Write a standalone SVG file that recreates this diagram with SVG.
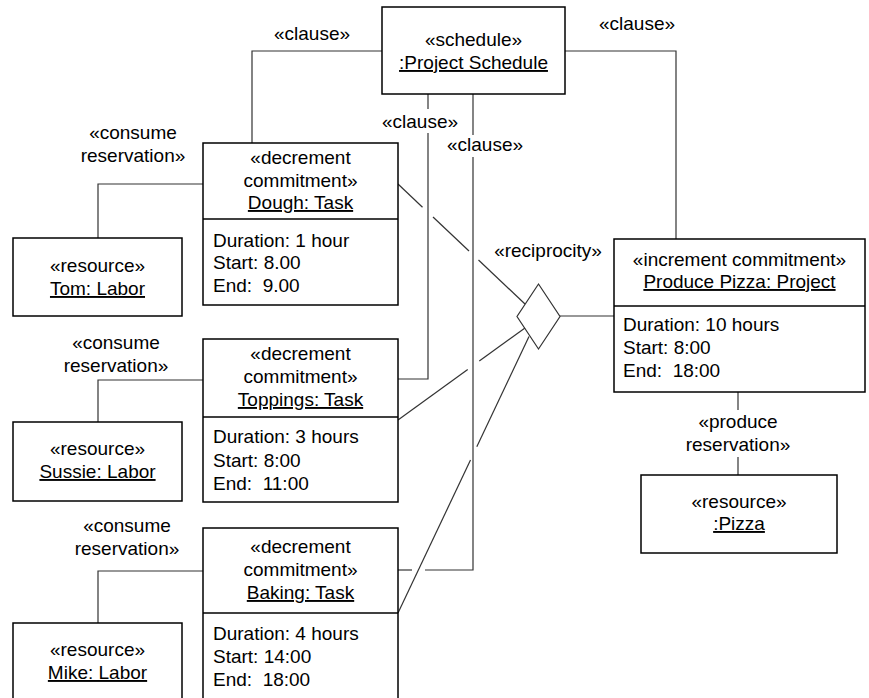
<svg xmlns="http://www.w3.org/2000/svg" width="869" height="698" viewBox="0 0 869 698">
  <style>
    text { font-family: "Liberation Sans", Arial, sans-serif; font-size: 19px; fill: #000; }
    .c { text-anchor: middle; }
    .u { text-decoration: underline; }
    .box { fill: #fff; stroke: #000; stroke-width: 1.5; }
    .div { stroke: #000; stroke-width: 1.5; fill: none; }
    .conn { fill: none; stroke: #333; stroke-width: 1.2; }
  </style>
  <rect width="869" height="698" fill="#fff"/>

  <!-- connectors -->
  <g id="connectors">
    <!-- schedule clauses -->
    <polyline class="conn" points="382,51 252,51 252,143"/>
    <polyline class="conn" points="565,51 676,51 676,239"/>
    <polyline class="conn" points="428,94 428,109"/>
    <polyline class="conn" points="428,133 428,379 398,379"/>
    <polyline class="conn" points="473,94 473,135"/>
    <polyline class="conn" points="473,157 473,570 425,570"/>
    <line class="conn" x1="412" y1="570" x2="398" y2="570"/>
    <!-- consume reservations -->
    <polyline class="conn" points="203,184 98,184 98,238"/>
    <polyline class="conn" points="203,380 98,380 98,422"/>
    <polyline class="conn" points="203,571 98,571 98,623"/>
    <!-- produce reservation -->
    <line class="conn" x1="738" y1="392" x2="738" y2="410"/>
    <line class="conn" x1="738" y1="457" x2="738" y2="475"/>
    <!-- reciprocity -->
    <line class="conn" x1="398" y1="184" x2="422.5" y2="207.2"/>
    <line class="conn" x1="433" y1="217" x2="469" y2="251"/>
    <line class="conn" x1="478.5" y1="260" x2="525" y2="304"/>
    <line class="conn" x1="398" y1="420" x2="467.7" y2="369.5"/>
    <line class="conn" x1="479.3" y1="361" x2="525" y2="328"/>
    <line class="conn" x1="398" y1="613" x2="470.5" y2="460"/>
    <line class="conn" x1="476.8" y1="446.7" x2="529" y2="336.5"/>
    <polygon class="conn" points="538.5,284 560,316.5 538.5,349 517,316.5" fill="#fff"/>
    <line class="conn" x1="560" y1="316" x2="614" y2="316"/>
    <!-- connector labels -->
    <text class="c" x="312" y="40">«clause»</text>
    <text class="c" x="637" y="30">«clause»</text>
    <text class="c" x="420" y="128">«clause»</text>
    <text class="c" x="485" y="151">«clause»</text>
    <text class="c" x="548" y="257">«reciprocity»</text>
    <text class="c" x="133" y="139">«consume</text>
    <text class="c" x="133" y="162">reservation»</text>
    <text class="c" x="116" y="349">«consume</text>
    <text class="c" x="116" y="372">reservation»</text>
    <text class="c" x="127" y="532">«consume</text>
    <text class="c" x="127" y="555">reservation»</text>
    <text class="c" x="738" y="428">«produce</text>
    <text class="c" x="738" y="451">reservation»</text>
  </g>

  <g id="schedule">
    <rect class="box" x="382" y="7" width="183" height="87"/>
    <text class="c" x="473.5" y="46">«schedule»</text>
    <text class="c u" x="473.5" y="69">:Project Schedule</text>
  </g>

  <g id="dough">
    <rect class="box" x="203" y="143" width="195" height="162"/>
    <line class="div" x1="203" y1="219" x2="398" y2="219"/>
    <text class="c" x="300.5" y="164">«decrement</text>
    <text class="c" x="300.5" y="187">commitment»</text>
    <text class="c u" x="300.5" y="209">Dough: Task</text>
    <text x="213" y="247">Duration: 1 hour</text>
    <text x="213" y="269">Start: 8.00</text>
    <text x="213" y="292" xml:space="preserve">End:  9.00</text>
  </g>

  <g id="toppings">
    <rect class="box" x="203" y="339" width="195" height="163"/>
    <line class="div" x1="203" y1="417" x2="398" y2="417"/>
    <text class="c" x="300.5" y="360">«decrement</text>
    <text class="c" x="300.5" y="383">commitment»</text>
    <text class="c u" x="300.5" y="406">Toppings: Task</text>
    <text x="213" y="443">Duration: 3 hours</text>
    <text x="213" y="467">Start: 8:00</text>
    <text x="213" y="490" xml:space="preserve">End:  11:00</text>
  </g>

  <g id="baking">
    <rect class="box" x="203" y="528" width="195" height="180"/>
    <line class="div" x1="203" y1="613" x2="398" y2="613"/>
    <text class="c" x="300.5" y="553">«decrement</text>
    <text class="c" x="300.5" y="576">commitment»</text>
    <text class="c u" x="300.5" y="599">Baking: Task</text>
    <text x="213" y="640">Duration: 4 hours</text>
    <text x="213" y="663">Start: 14:00</text>
    <text x="213" y="686" xml:space="preserve">End:  18:00</text>
  </g>

  <g id="tom">
    <rect class="box" x="13" y="238" width="169" height="78"/>
    <text class="c" x="97.5" y="272">«resource»</text>
    <text class="c u" x="97.5" y="295">Tom: Labor</text>
  </g>

  <g id="sussie">
    <rect class="box" x="13" y="422" width="169" height="79"/>
    <text class="c" x="97.5" y="455">«resource»</text>
    <text class="c u" x="97.5" y="478">Sussie: Labor</text>
  </g>

  <g id="mike">
    <rect class="box" x="13" y="623" width="169" height="85"/>
    <text class="c" x="97.5" y="656">«resource»</text>
    <text class="c u" x="97.5" y="679">Mike: Labor</text>
  </g>

  <g id="produce-pizza">
    <rect class="box" x="614" y="239" width="251" height="153"/>
    <line class="div" x1="614" y1="306" x2="865" y2="306"/>
    <text class="c" x="739.5" y="266">«increment commitment»</text>
    <text class="c u" x="739.5" y="288">Produce Pizza: Project</text>
    <text x="623" y="331">Duration: 10 hours</text>
    <text x="623" y="354">Start: 8:00</text>
    <text x="623" y="377" xml:space="preserve">End:  18:00</text>
  </g>

  <g id="pizza">
    <rect class="box" x="641" y="475" width="196" height="78"/>
    <text class="c" x="739" y="508">«resource»</text>
    <text class="c u" x="739" y="530">:Pizza</text>
  </g>
</svg>
